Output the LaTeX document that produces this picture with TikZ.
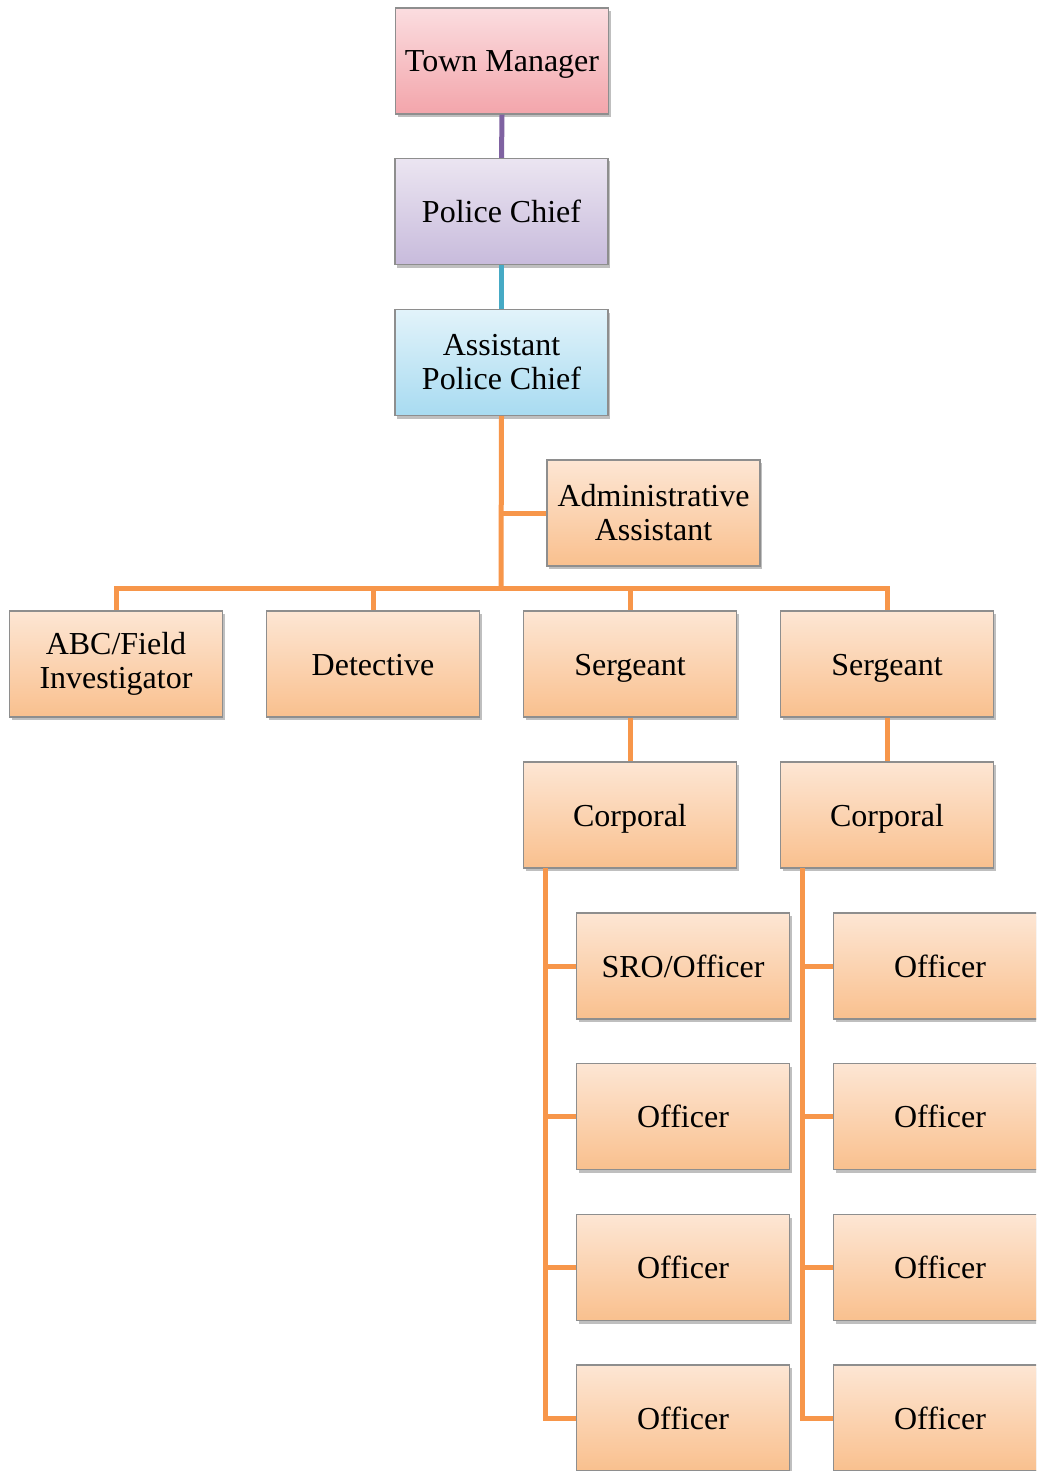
\documentclass[tikz,border=0pt]{standalone}
\usepackage{fontspec}
\setmainfont{Liberation Serif}
\usetikzlibrary{shadows}
\definecolor{bordergray}{HTML}{8E8E8E}
\definecolor{pinkA}{HTML}{FBDDE0}
\definecolor{pinkB}{HTML}{F3A5AB}
\definecolor{lavA}{HTML}{EBE5F1}
\definecolor{lavB}{HTML}{C8BBDC}
\definecolor{cyA}{HTML}{E2F3FA}
\definecolor{cyB}{HTML}{A8DBF1}
\definecolor{orA}{HTML}{FDE6D4}
\definecolor{orB}{HTML}{F9C08E}
\definecolor{lnPurple}{HTML}{7F62A1}
\definecolor{lnCyan}{HTML}{46AAC5}
\definecolor{lnOrange}{HTML}{F7964A}
\tikzset{
  box/.style={rectangle, draw=bordergray, line width=1.3pt, minimum width=213pt, minimum height=106pt,
    inner sep=0pt, align=center, font=\fontsize{32}{34}\selectfont,
    drop shadow={shadow xshift=2pt, shadow yshift=-3pt, opacity=0.25, fill=black}},
  oneline/.style={text height=22pt, text depth=0pt},
  pinkbox/.style={box, oneline, top color=pinkA, bottom color=pinkB},
  lavbox/.style={box, oneline, top color=lavA, bottom color=lavB},
  cybox/.style={box, top color=cyA, bottom color=cyB},
  orbox/.style={box, top color=orA, bottom color=orB},
  orone/.style={orbox, oneline},
  conn/.style={line width=5pt},
  orconn/.style={conn, draw=lnOrange}
}
\begin{document}
\begin{tikzpicture}[x=1pt,y=-1pt]
\clip (0,0) rectangle (1036,1471);
\fill[white] (0,0) rectangle (1036,1471);
\coordinate (busc) at (501,588);
\node[pinkbox] (tm) at (502,61) {Town Manager};
\node[lavbox] (pc) at (501.5,211.5) {Police Chief};
\node[cybox] (apc) at (501.5,362.5) {Assistant\\Police Chief};
\node[orbox] (adm) at (653.5,513) {Administrative\\Assistant};
\node[orbox] (abc) at (116,664) {ABC/Field\\Investigator};
\node[orone] (det) at (373,664) {Detective};
\node[orone] (sg1) at (630,664) {Sergeant};
\node[orone] (sg2) at (887,664) {Sergeant};
\node[orone] (cp1) at (630,815) {Corporal};
\node[orone] (cp2) at (887,815) {Corporal};
\node[orone] (o11) at (683,966) {SRO/Officer};
\node[orone] (o12) at (683,1116.5) {Officer};
\node[orone] (o13) at (683,1267.5) {Officer};
\node[orone] (o14) at (683,1418) {Officer};
\node[orone] (o21) at (940,966) {Officer};
\node[orone] (o22) at (940,1116.5) {Officer};
\node[orone] (o23) at (940,1267.5) {Officer};
\node[orone] (o24) at (940,1418) {Officer};
\coordinate (c1) at (545,868);
\coordinate (c2) at (802,868);
\draw[conn, lnPurple] (tm.south) -- (pc.north);
\draw[conn, lnCyan] (pc.south) -- (apc.north);
\draw[orconn] (apc.south) -- (busc);
\draw[orconn] (apc.south |- adm.west) -- (adm.west);
\draw[orconn] (abc.north) |- (busc) -| (sg2.north);
\draw[orconn] (det.north) -- (det.north |- busc);
\draw[orconn] (sg1.north) -- (sg1.north |- busc);
\draw[orconn] (sg1.south) -- (cp1.north);
\draw[orconn] (sg2.south) -- (cp2.north);
\draw[orconn] (c1) |- (o14.west);
\draw[orconn] (c1 |- o11.west) -- (o11.west);
\draw[orconn] (c1 |- o12.west) -- (o12.west);
\draw[orconn] (c1 |- o13.west) -- (o13.west);
\draw[orconn] (c2) |- (o24.west);
\draw[orconn] (c2 |- o21.west) -- (o21.west);
\draw[orconn] (c2 |- o22.west) -- (o22.west);
\draw[orconn] (c2 |- o23.west) -- (o23.west);
\end{tikzpicture}
\end{document}
